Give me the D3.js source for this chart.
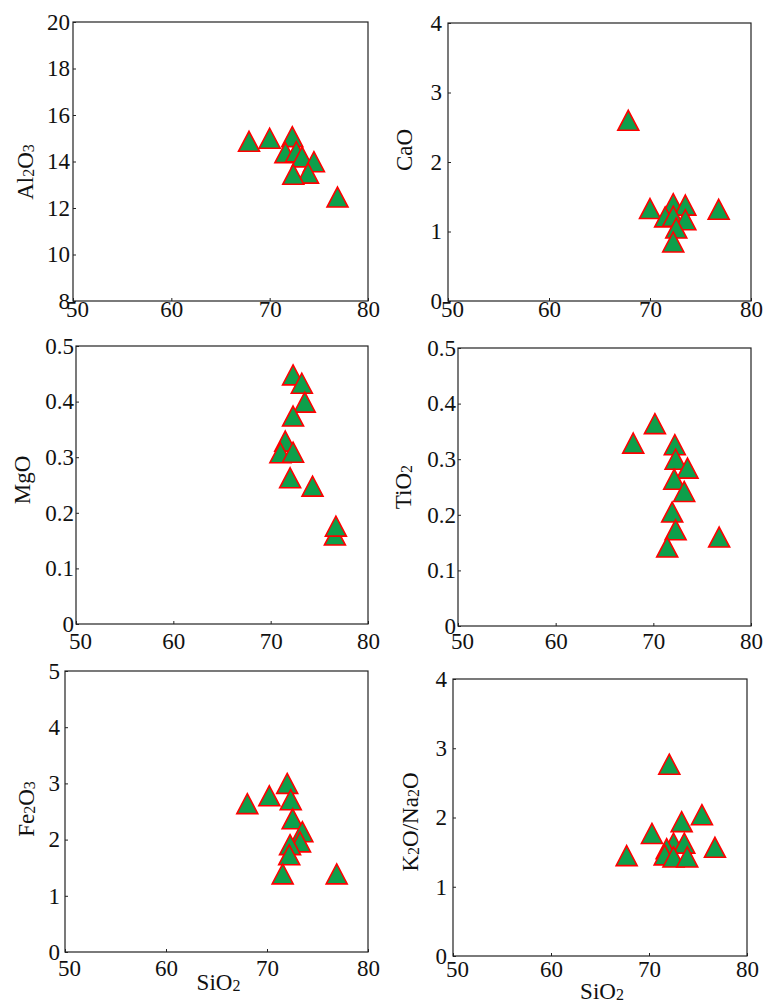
<!DOCTYPE html>
<html>
<head>
<meta charset="utf-8">
<script src="https://cdn.jsdelivr.net/npm/d3@7"></script>
<style>
  body { margin: 0; background: #fff; }
  #chart text { font-family: "Liberation Serif", "Times New Roman", Tinos, serif; fill: #111; }
</style>
</head>
<body>
<svg id="chart" width="771" height="1005"></svg>
<script>
// SiO2 on every x axis
var sio2Ticks = [50, 60, 70, 80];

// Al2O3 vs SiO2
var alSiO2 = [67.9, 70.0, 72.3, 71.6, 72.7, 73.3, 74.5, 73.9, 72.4, 76.9];
var al2o3  = [14.87, 15.0, 15.07, 14.38, 14.42, 14.2, 13.99, 13.5, 13.45, 12.47];
var alTicks = [8, 10, 12, 14, 16, 18, 20];

// CaO vs SiO2
var caSiO2 = [67.85, 70.0, 72.3, 73.5, 76.8, 71.5, 72.3, 73.5, 72.6, 72.3];
var cao    = [2.60, 1.33, 1.40, 1.38, 1.32, 1.21, 1.22, 1.17, 1.05, 0.85];
var caTicks = [0, 1, 2, 3, 4];

// MgO vs SiO2
var mgSiO2 = [72.3, 73.2, 73.5, 72.3, 71.5, 71.0, 72.3, 72.0, 74.3, 76.6, 76.7];
var mgo    = [0.448, 0.433, 0.399, 0.374, 0.329, 0.308, 0.309, 0.263, 0.248, 0.160, 0.176];
var mgTicks = [0, 0.1, 0.2, 0.3, 0.4, 0.5];

// TiO2 vs SiO2
var tiSiO2 = [67.94, 70.16, 72.2, 72.28, 73.5, 72.14, 73.16, 71.93, 72.28, 71.42, 76.74];
var tio2   = [0.329, 0.364, 0.326, 0.300, 0.284, 0.264, 0.242, 0.205, 0.173, 0.142, 0.160];
var tiTicks = [0, 0.1, 0.2, 0.3, 0.4, 0.5];

// Fe2O3 vs SiO2
var feSiO2 = [68.05, 70.23, 72.0, 72.35, 72.54, 73.5, 73.27, 72.28, 72.2, 71.55, 76.9];
var fe2o3  = [2.64, 2.78, 3.0, 2.71, 2.37, 2.14, 1.96, 1.91, 1.73, 1.39, 1.39];
var feTicks = [0, 1, 2, 3, 4, 5];

// K2O/Na2O vs SiO2
var kSiO2 = [67.72, 70.3, 72.07, 75.4, 73.33, 72.5, 73.6, 71.8, 71.6, 72.5, 73.9, 76.73];
var kNa   = [1.45, 1.77, 2.77, 2.04, 1.94, 1.63, 1.63, 1.55, 1.46, 1.43, 1.43, 1.57];
var kTicks = [0, 1, 2, 3, 4];

var svg = d3.select("#chart");
var fmtInt = d3.format("d");
var fmtDec = function(d) { return d === 0 ? "0" : d3.format(".1f")(d); };
var serif = "'Liberation Serif', 'Times New Roman', Tinos, serif";

// panel boxes and label spots (pixels)
var panels = [
  {xs: alSiO2, ys: al2o3, ticks: alTicks, fmt: fmtInt, box: [73, 22, 368, 301], xPad: 0, yPad: 3,
   label: [["Al"], ["2", 1], ["O"], ["3", 1]], lx: 33, ly: 172, title: false},
  {xs: caSiO2, ys: cao, ticks: caTicks, fmt: fmtInt, box: [448, 23, 751, 301], xPad: 0, yPad: 6,
   label: [["CaO"]], lx: 412, ly: 150, title: false},
  {xs: mgSiO2, ys: mgo, ticks: mgTicks, fmt: fmtDec, box: [76, 346, 368, 624], xPad: 9, yPad: 2,
   label: [["MgO"]], lx: 30, ly: 480, title: false},
  {xs: tiSiO2, ys: tio2, ticks: tiTicks, fmt: fmtDec, box: [458, 348, 751, 626], xPad: 7, yPad: 2,
   label: [["TiO"], ["2", 1]], lx: 411, ly: 487, title: false},
  {xs: feSiO2, ys: fe2o3, ticks: feTicks, fmt: fmtInt, box: [65, 671, 368, 952], xPad: 8, yPad: 5,
   label: [["Fe"], ["2", 1], ["O"], ["3", 1]], lx: 34, ly: 809, title: true, ty: 990},
  {xs: kSiO2, ys: kNa, ticks: kTicks, fmt: fmtInt, box: [453, 679, 747, 956], xPad: 5, yPad: 6,
   label: [["K"], ["2", 1], ["O/Na"], ["2", 1], ["O"]], lx: 418, ly: 822, title: true, ty: 999}
];

function addParts(text, parts) {
  parts.forEach(function(p, i) {
    var s = text.append("tspan").style("font-family", serif).text(p[0]);
    if (p[1]) {
      s.style("font-size", "16px").attr("dy", 1);
    } else {
      s.style("font-size", "23px").attr("dy", i ? -1 : 0);
    }
  });
}

function tri(cx, cy) {
  var w = 21, h = 20;
  return "M" + cx + "," + (cy - h / 2) + "L" + (cx + w / 2) + "," + (cy + h / 2) +
         "L" + (cx - w / 2) + "," + (cy + h / 2) + "Z";
}

panels.forEach(function(p) {
  var b = p.box;
  var x = d3.scaleLinear().domain([50, 80]).range([b[0], b[2]]);
  var y = d3.scaleLinear().domain([p.ticks[0], p.ticks[p.ticks.length - 1]]).range([b[3], b[1]]);
  var g = svg.append("g");

  var gx = g.append("g")
    .attr("transform", "translate(0," + b[3] + ")")
    .call(d3.axisBottom(x).tickValues(sio2Ticks).tickSizeInner(-3).tickSizeOuter(0).tickPadding(p.xPad));
  gx.selectAll("text").filter(function(d) { return d === 50; }).attr("dx", 4);

  var gy = g.append("g")
    .attr("transform", "translate(" + b[0] + ",0)")
    .call(d3.axisLeft(y).tickValues(p.ticks).tickFormat(p.fmt).tickSizeInner(-3).tickSizeOuter(0).tickPadding(p.yPad));

  [gx, gy].forEach(function(a) {
    a.attr("font-size", null).attr("font-family", null);
    a.select(".domain").remove();
    a.selectAll(".tick line").attr("stroke", "#222");
    a.selectAll("text")
      .style("font-family", serif)
      .style("font-size", "23px")
      .attr("fill", "#111");
  });

  g.append("rect")
    .attr("x", b[0]).attr("y", b[1])
    .attr("width", b[2] - b[0]).attr("height", b[3] - b[1])
    .attr("fill", "none").attr("stroke", "#222").attr("stroke-width", 1.2);

  var lab = g.append("text")
    .attr("text-anchor", "middle")
    .attr("transform", "translate(" + p.lx + "," + p.ly + ") rotate(-90)");
  addParts(lab, p.label);

  if (p.title) {
    var t = g.append("text")
      .attr("text-anchor", "middle")
      .attr("x", (b[0] + b[2]) / 2 + 2).attr("y", p.ty);
    addParts(t, [["SiO"], ["2", 1]]);
  }

  g.selectAll("path.pt")
    .data(p.xs.map(function(v, i) { return [v, p.ys[i]]; }))
    .enter().append("path")
    .attr("class", "pt")
    .attr("d", function(d) { return tri(x(d[0]), y(d[1])); })
    .attr("fill", "#0e9f4b")
    .attr("stroke", "#ff0000")
    .attr("stroke-width", 1.6)
    .attr("stroke-linejoin", "miter");
});
</script>
</body>
</html>
